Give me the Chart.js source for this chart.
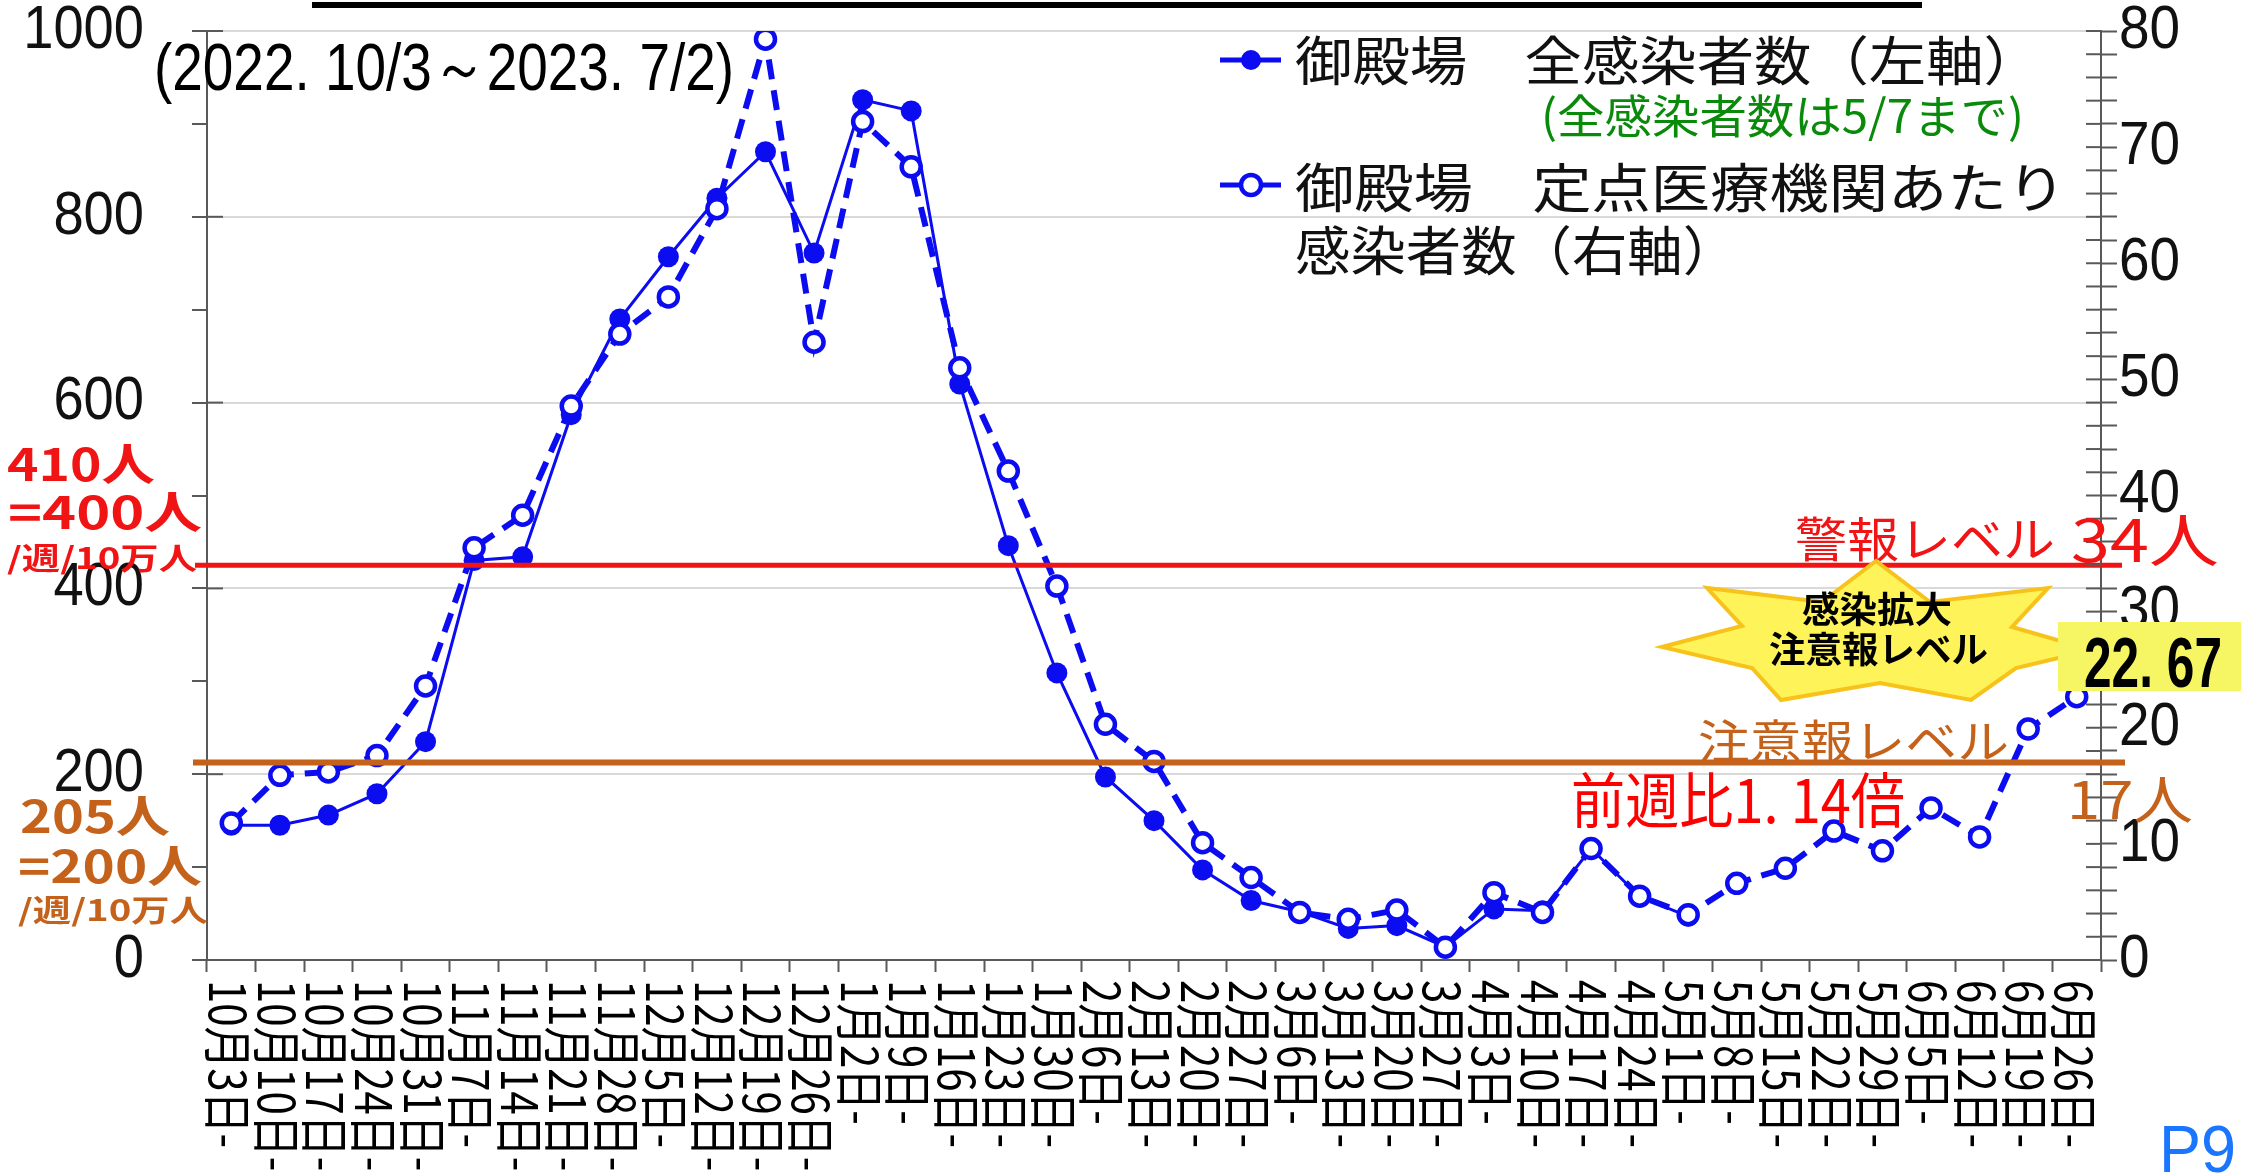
<!DOCTYPE html>
<html><head><meta charset="utf-8">
<script src="https://cdn.jsdelivr.net/npm/chart.js@4.4.1/dist/chart.umd.min.js"></script>
<style>html,body{margin:0;padding:0;background:#fff;overflow:hidden}canvas{display:block}</style>
</head><body>
<canvas id="c" width="2241" height="1175"></canvas>
<script>
// ---- data ----
const categories = ['10月3日-','10月10日-','10月17日-','10月24日-','10月31日-','11月7日-','11月14日-','11月21日-','11月28日-','12月5日-','12月12日-','12月19日-','12月26日-','1月2日-','1月9日-','1月16日-','1月23日-','1月30日-','2月6日-','2月13日-','2月20日-','2月27日-','3月6日-','3月13日-','3月20日-','3月27日-','4月3日-','4月10日-','4月17日-','4月24日-','5月1日-','5月8日-','5月15日-','5月22日-','5月29日-','6月5日-','6月12日-','6月19日-','6月26日-'];
// 御殿場 全感染者数（左軸） – reported until 5/7
const totalCases = [145,145,156,179,235,430,434,587,690,757,820,870,761,926,914,620,446,309,197,150,97,64,52,34,37,14,55,53,120,68,47];
// 御殿場 定点医療機関あたり感染者数（右軸）
const perSentinel = [11.8,15.9,16.2,17.6,23.6,35.5,38.3,47.7,53.9,57.1,64.7,79.3,53.2,72.2,68.3,51.0,42.1,32.2,20.3,17.1,10.1,7.1,4.1,3.5,4.3,1.1,5.8,4.1,9.6,5.5,3.9,6.6,7.9,11.1,9.4,13.1,10.6,19.89,22.67];
const leftTickLabels = [0,200,400,600,800,1000];
const rightTickLabels = [0,10,20,30,40,50,60,70,80];
const levelValues = [34, 17]; // 警報レベル, 注意報レベル (right axis)
const seriesNames = ['御殿場　全感染者数（左軸）', '御殿場　定点医療機関あたり', '感染者数（右軸）'];

const BLUE = '#0c0cf0', AXIS = '#595959', GRID = '#d9d9d9';
const RED = '#f01414', ORANGE = '#c4621c', GREEN = '#0a8a0a';
const CJK = '"Noto Sans CJK JP", "Noto Sans", sans-serif';
const NARROW = '"Liberation Sans Narrow", "Liberation Sans", "DejaVu Sans Condensed", sans-serif';

function fitText(ctx, text, x0, x1, y, font, color, baseline) {
  ctx.save();
  ctx.font = font;
  ctx.textBaseline = baseline || 'middle';
  ctx.textAlign = 'left';
  const w = ctx.measureText(text).width;
  ctx.translate(x0, y);
  ctx.scale((x1 - x0) / w, 1);
  ctx.fillStyle = color;
  ctx.fillText(text, 0, 0);
  ctx.restore();
}

// draw the axes' own tick labels slightly condensed (narrow font look)
const condenseLabels = {
  id: 'condenseLabels',
  beforeDraw(chart) {
    [['y', 0.89], ['y1', 0.9]].forEach(([id, f]) => {
      const s = chart.scales[id];
      if (s._condensed) return;
      const orig = s.drawLabels.bind(s);
      s.drawLabels = function (area) {
        const opts = this.options;
        const tl = opts.grid.tickLength, pad = opts.ticks.padding;
        const ax = opts.position === 'left' ? this.right - tl - pad : this.left + tl + pad;
        const ctx = this.ctx;
        ctx.save();
        ctx.translate(ax, 0); ctx.scale(f, 1); ctx.translate(-ax, 0);
        orig(area);
        ctx.restore();
      };
      s._condensed = true;
    });
  }
};

const overlay = {
  id: 'overlay',
  afterDatasetsDraw(chart) {
    const ctx = chart.ctx, y1 = chart.scales.y1;
    const cols = [RED, ORANGE], widths = [5, 6], ends = [[195, 2122], [193, 2125]];
    levelValues.forEach((v, k) => {
      const py = y1.getPixelForValue(v);
      ctx.save();
      ctx.strokeStyle = cols[k]; ctx.lineWidth = widths[k];
      ctx.beginPath(); ctx.moveTo(ends[k][0], py); ctx.lineTo(ends[k][1], py); ctx.stroke();
      ctx.restore();
    });
  },
  afterDraw(chart) {
    const ctx = chart.ctx, xs = chart.scales.x, ys = chart.scales.y, y1 = chart.scales.y1;
    const area = chart.chartArea;
    // inward tick marks
    ctx.save();
    ctx.strokeStyle = AXIS; ctx.lineWidth = 2;
    y1.ticks.forEach(t => { const py = y1.getPixelForValue(t.value); ctx.beginPath(); ctx.moveTo(area.right - 15, py); ctx.lineTo(area.right, py); ctx.stroke(); });
    ys.ticks.forEach(t => { if (t.value % 200 === 0) { const py = ys.getPixelForValue(t.value); ctx.beginPath(); ctx.moveTo(area.left, py); ctx.lineTo(area.left + 16, py); ctx.stroke(); } });
    ctx.restore();

    // rotated category labels (clockwise)
    ctx.save();
    ctx.fillStyle = '#000';
    ctx.font = '50px ' + CJK;
    const along = 168 / ctx.measureText(categories[0]).width;
    chart.data.labels.forEach((lab, i) => {
      const px = xs.getPixelForValue(i) - 3;
      ctx.save();
      ctx.translate(px, 980);
      ctx.rotate(Math.PI / 2);
      ctx.scale(along, 1);
      ctx.textBaseline = 'middle'; ctx.textAlign = 'left';
      ctx.fillText(lab, 0, 0);
      ctx.restore();
    });
    ctx.restore();

    // cut-off title underline
    ctx.fillStyle = '#000';
    ctx.fillRect(312, 2, 1610, 6);

    // period
    fitText(ctx, '(2022. 10/3～2023. 7/2)', 154, 734, 90, '66px ' + NARROW, '#000', 'alphabetic');

    // legend
    const drawMarker = (y, filled) => {
      ctx.save();
      ctx.strokeStyle = BLUE; ctx.lineWidth = 5;
      ctx.beginPath(); ctx.moveTo(1220, y); ctx.lineTo(1281, y); ctx.stroke();
      ctx.beginPath(); ctx.arc(1251, y, 10, 0, Math.PI * 2);
      if (filled) { ctx.fillStyle = BLUE; ctx.fill(); }
      else { ctx.fillStyle = '#fff'; ctx.fill(); ctx.lineWidth = 4.5; ctx.stroke(); }
      ctx.restore();
    };
    drawMarker(60, true);
    drawMarker(185, false);
    fitText(ctx, seriesNames[0], 1295, 2041, 61, '53px ' + CJK, '#111');
    fitText(ctx, '(全感染者数は5/7まで)', 1541, 2024, 116, '46px ' + CJK, GREEN);
    fitText(ctx, seriesNames[1], 1295, 2066, 188, '53px ' + CJK, '#111');
    fitText(ctx, seriesNames[2], 1295, 1738, 251, '53px ' + CJK, '#111');

    // left level annotations
    fitText(ctx, '410人', 7, 155, 464, 'bold 44px ' + CJK, RED);
    fitText(ctx, '=400人', 8, 202, 512, 'bold 44px ' + CJK, RED);
    fitText(ctx, '/週/10万人', 7, 197, 558, 'bold 30px ' + CJK, RED);
    fitText(ctx, '205人', 20, 170, 816, 'bold 44px ' + CJK, ORANGE);
    fitText(ctx, '=200人', 18, 202, 866, 'bold 44px ' + CJK, ORANGE);
    fitText(ctx, '/週/10万人', 18, 208, 910, 'bold 30px ' + CJK, ORANGE);

    // right level annotations
    fitText(ctx, '警報レベル', 1795, 2055, 539, '48px ' + CJK, RED);
    fitText(ctx, '34人', 2071, 2219, 540, '58px ' + CJK, RED);
    fitText(ctx, '注意報レベル', 1698, 2009, 741, '46px ' + CJK, ORANGE);
    fitText(ctx, '17人', 2067, 2193, 799, '52px ' + CJK, ORANGE);
    fitText(ctx, '前週比1. 14倍', 1571, 1905, 800, '60px ' + CJK, '#ff0000');

    // star burst
    const star = [[1876,561],[1930,602],[2048,588],[2012,627],[2092,650],[2016,668],[1971,700],[1880,683],[1781,700],[1752,668],[1662,647],[1742,626],[1707,588],[1822,602]];
    ctx.save();
    ctx.beginPath();
    star.forEach((p, i) => i ? ctx.lineTo(p[0], p[1]) : ctx.moveTo(p[0], p[1]));
    ctx.closePath();
    ctx.fillStyle = '#fff35a'; ctx.fill();
    ctx.strokeStyle = '#f7c21a'; ctx.lineWidth = 4; ctx.stroke();
    ctx.restore();
    fitText(ctx, '感染拡大', 1802, 1952, 609, 'bold 36px ' + CJK, '#000');
    fitText(ctx, '注意報レベル', 1769, 1988, 649, 'bold 36px ' + CJK, '#000');

    // latest value box
    ctx.fillStyle = '#f6f664';
    ctx.fillRect(2058, 622, 183, 69);
    fitText(ctx, '22. 67', 2084, 2222, 687, 'bold 70px ' + NARROW, '#000', 'alphabetic');

    // page number
    fitText(ctx, 'P9', 2159, 2236, 1172, '66px ' + NARROW, '#1a75ff', 'alphabetic');
  }
};

const zeroPad = s => { s.paddingTop = 0; s.paddingBottom = 0; s.paddingLeft = 0; s.paddingRight = 0; };

new Chart(document.getElementById('c'), {
  type: 'line',
  data: {
    labels: categories,
    datasets: [
      { label: seriesNames[1] + seriesNames[2], data: perSentinel, yAxisID: 'y1',
        borderColor: BLUE, borderWidth: 6, borderDash: [20, 11], tension: 0,
        pointRadius: 9.5, pointBorderWidth: 4.5, pointBackgroundColor: '#fff', pointBorderColor: BLUE, order: 0 },
      { label: seriesNames[0], data: totalCases, yAxisID: 'y',
        borderColor: BLUE, borderWidth: 3, tension: 0,
        pointRadius: 10.5, pointBorderWidth: 0, pointBackgroundColor: BLUE, pointBorderColor: BLUE, order: 1 }
    ]
  },
  options: {
    responsive: false, animation: false, devicePixelRatio: 1,
    layout: { padding: { top: 31, left: 0, right: 0, bottom: 0 } },
    plugins: { legend: { display: false }, tooltip: { enabled: false }, title: { display: false } },
    scales: {
      x: {
        type: 'category', offset: true,
        grid: { offset: true, drawOnChartArea: false, drawTicks: true, tickLength: 12, tickColor: AXIS, tickWidth: 2 },
        border: { color: AXIS, width: 2 },
        ticks: { display: false },
        afterFit: s => { s.height = 215; zeroPad(s); }
      },
      y: {
        position: 'left', min: 0, max: 1000,
        ticks: { stepSize: 100, autoSkip: false, padding: 48, color: '#111',
          font: { family: '"Liberation Sans Narrow", "Liberation Sans"', size: 61 },
          callback: v => leftTickLabels.includes(v) ? String(v) : '' },
        grid: { color: c => (c.tick && leftTickLabels.includes(c.tick.value) && c.tick.value > 0) ? GRID : 'rgba(0,0,0,0)',
          lineWidth: 2, tickColor: AXIS, tickLength: 15, tickWidth: 2 },
        border: { color: AXIS, width: 2 },
        afterFit: s => { s.width = 207; zeroPad(s); }
      },
      y1: {
        position: 'right', min: 0, max: 80,
        ticks: { stepSize: 2, autoSkip: false, padding: 2, color: '#111',
          font: { family: '"Liberation Sans Narrow", "Liberation Sans"', size: 61 },
          callback: v => rightTickLabels.includes(v) ? String(v) : '' },
        grid: { drawOnChartArea: false, tickColor: AXIS, tickLength: 16, tickWidth: 2 },
        border: { color: AXIS, width: 2 },
        afterFit: s => { s.width = 140; zeroPad(s); }
      }
    }
  },
  plugins: [condenseLabels, overlay]
});
</script>
</body></html>
